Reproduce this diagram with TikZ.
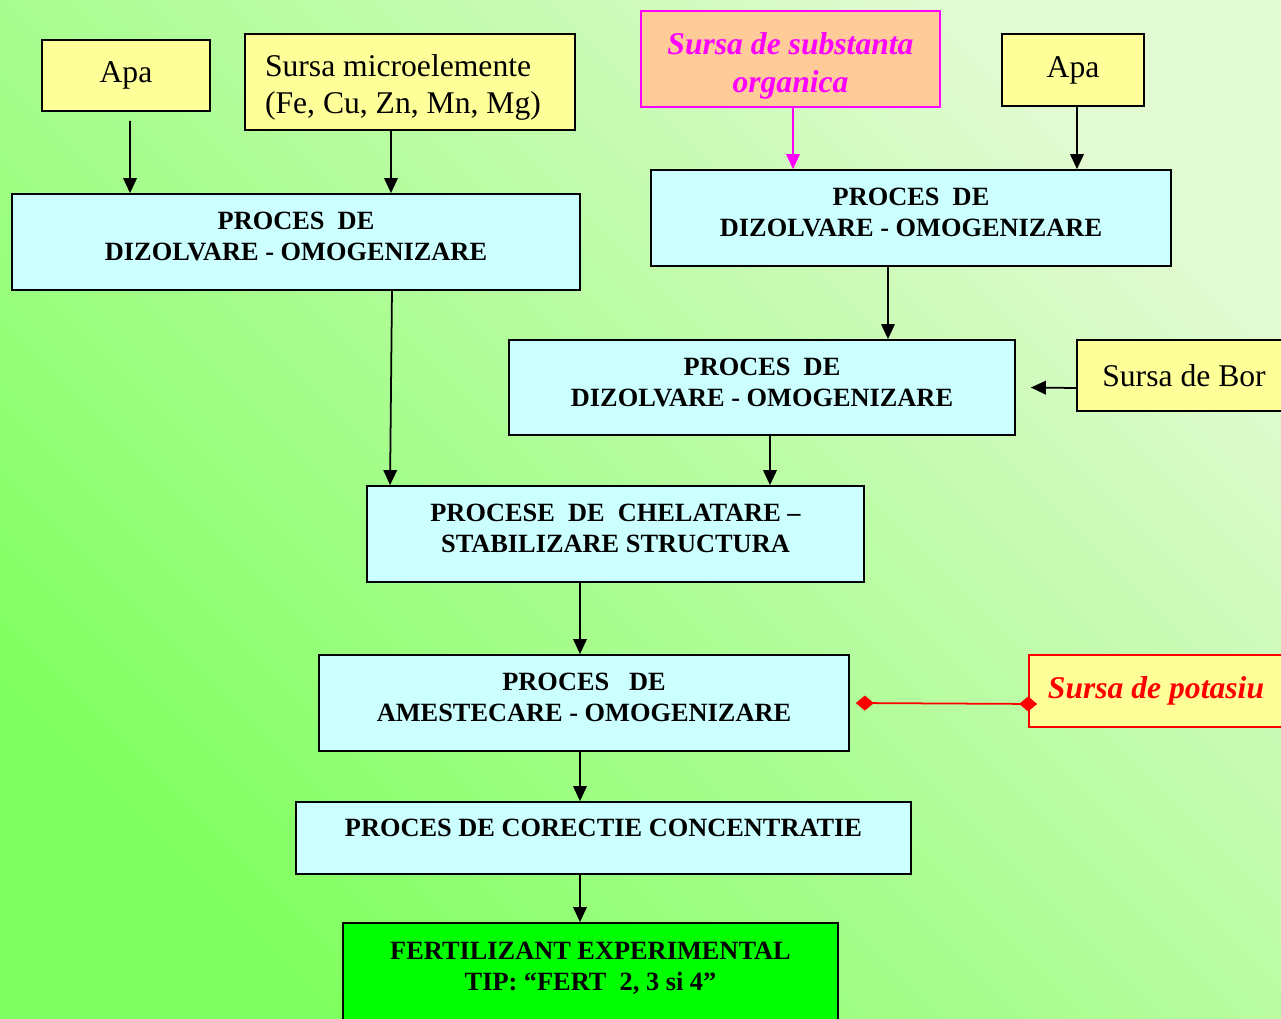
\documentclass[tikz,border=0pt]{standalone}
\usepackage{fontspec}
\setmainfont{Liberation Serif}
\usepackage{xcolor}
\usetikzlibrary{arrows.meta}

\definecolor{bgdark}{RGB}{128,255,96}
\definecolor{bgmid}{RGB}{184,250,160}
\definecolor{bglight}{RGB}{226,250,210}
\definecolor{procfill}{RGB}{204,255,255}
\definecolor{srcfill}{RGB}{255,255,153}
\definecolor{orgfill}{RGB}{255,204,153}
\definecolor{orgline}{RGB}{255,0,255}
\definecolor{fertfill}{RGB}{0,255,0}
\newcommand{\dropstrut}[1]{\rule[-#1]{0pt}{0pt}}
\newcommand{\topstrut}[1]{\rule{0pt}{#1}}

\begin{document}
\begin{tikzpicture}[
  x=0.02cm, y=-0.02cm,
  proc/.style={draw, line width=1pt, fill=procfill, align=center, inner sep=2pt,
               font=\fontsize{15}{17.5}\selectfont\bfseries, minimum height=1.92cm},
  src/.style={draw, line width=1pt, fill=srcfill, align=center, inner sep=2pt,
              font=\fontsize{18}{21}\selectfont},
  srcit/.style={src, font=\fontsize{18}{21.5}\selectfont\bfseries\itshape},
  arr/.style={-{Triangle[length=0.3cm, width=0.27cm]}, line width=1pt}
]
%% --- Background ---
\useasboundingbox (0,0) rectangle (1281,1018);
\clip (0,0) rectangle (1281,1018);
\shade[bottom color=bgdark, middle color=bgmid, top color=bglight, shading angle=-45]
  (0,0) rectangle (1281,1018);

%% --- Left branch: inputs and first dissolving ---
\node[src, minimum width=3.36cm, minimum height=1.42cm] (apa1) at (126,75.5) {Apa};
\node[src, align=flush left, text width=5.8cm, minimum width=6.6cm, minimum height=1.92cm] (micro) at (410,82)
  {\topstrut{0.66cm}Sursa microelemente\\(Fe, Cu, Zn, Mn, Mg)};
\node[proc, minimum width=11.36cm] (dz1) at (296,242)
  {PROCES\ \ DE\\DIZOLVARE - OMOGENIZARE\dropstrut{0.22cm}};
\draw[arr] ([xshift=0.08cm, yshift=-0.18cm]apa1.south) -- ([xshift=-3.32cm]dz1.north);
\draw[arr] ([xshift=-0.38cm]micro.south) -- ([xshift=1.9cm]dz1.north);

%% --- Right branch: organic source, water, boron ---
\node[srcit, draw=orgline, fill=orgfill, text=orgline,
      minimum width=5.98cm, minimum height=1.92cm] (org) at (790.5,59)
  {\topstrut{0.73cm}Sursa de substanta\\organica};
\node[src, minimum width=2.84cm, minimum height=1.44cm] (apa2) at (1073,70) {Apa};
\node[proc, minimum width=10.4cm] (dz2) at (911,218)
  {PROCES\ \ DE\\DIZOLVARE - OMOGENIZARE\dropstrut{0.22cm}};
\draw[arr, draw=orgline] ([xshift=0.05cm]org.south) -- ([xshift=-2.36cm]dz2.north);
\draw[arr] ([xshift=0.08cm]apa2.south) -- ([xshift=3.32cm]dz2.north);

\node[proc, minimum width=10.12cm, minimum height=1.9cm] (dz3) at (762,387.5)
  {PROCES\ \ DE\\DIZOLVARE - OMOGENIZARE\dropstrut{0.22cm}};
\node[src, minimum width=4.28cm, minimum height=1.42cm] (bor) at (1184,375.5) {Sursa de Bor};
\draw[arr] ([xshift=-0.46cm]dz2.south) -- ([xshift=2.52cm]dz3.north);
\draw[arr] ([yshift=-0.25cm]bor.west) -- ([xshift=0.3cm]dz3.east);

%% --- Main line ---
\node[proc, minimum width=9.94cm] (chel) at (615.5,534)
  {PROCESE\ \ DE\ \ CHELATARE –\\STABILIZARE STRUCTURA\dropstrut{0.22cm}};
\draw[arr] ([xshift=1.92cm]dz1.south) -- ([xshift=-4.51cm]chel.north);
\draw[arr] ([xshift=0.16cm]dz3.south) -- ([xshift=3.09cm]chel.north);

\node[proc, minimum width=10.6cm] (amest) at (584,703)
  {PROCES\ \ \ DE\\AMESTECARE - OMOGENIZARE\dropstrut{0.22cm}};
\node[srcit, draw=red, text=red, minimum width=5.08cm, minimum height=1.44cm] (pot) at (1156,691)
  {Sursa de potasiu};
\draw[arr] ([xshift=-0.71cm]chel.south) -- ([xshift=-0.08cm]amest.north);
\draw[red, line width=1pt, {Diamond[length=0.36cm, width=0.3cm]}-{Diamond[length=0.36cm, width=0.3cm]}]
  ([xshift=0.18cm, yshift=-0.26cm]pot.west) -- ([xshift=0.12cm]amest.east);

\node[proc, minimum width=12.3cm, minimum height=1.44cm] (corr) at (603.5,838)
  {PROCES DE CORECTIE CONCENTRATIE\dropstrut{0.4cm}};
\node[proc, fill=fertfill, minimum width=9.9cm, minimum height=1.96cm] (fert) at (590.5,972)
  {FERTILIZANT EXPERIMENTAL\\TIP: “FERT\ \ 2, 3 si 4”\dropstrut{0.22cm}};
\draw[arr] ([xshift=-0.08cm]amest.south) -- ([xshift=-0.47cm]corr.north);
\draw[arr] ([xshift=-0.47cm]corr.south) -- ([xshift=-0.21cm]fert.north);
\end{tikzpicture}
\end{document}
